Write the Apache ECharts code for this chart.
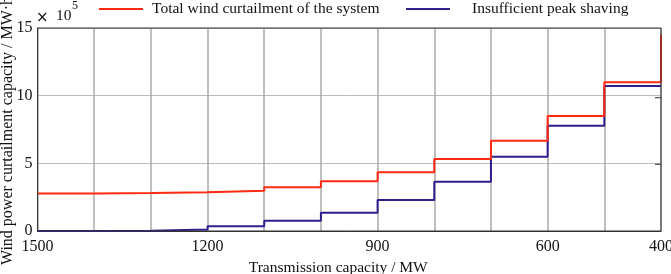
<!DOCTYPE html>
<html><head><meta charset="utf-8">
<script src="https://cdn.jsdelivr.net/npm/echarts@6/dist/echarts.min.js"></script>
<style>html,body{margin:0;padding:0;background:#fff}#c{width:671px;height:274px}</style>
</head><body><div id="c"></div>
<script>
var capacity = [1500, 1400, 1300, 1200, 1100, 1000, 900, 800, 700, 600, 500, 400];
var totalCurtail = [2.78, 2.8, 2.86, 2.98, 3.23, 3.67, 4.34, 5.32, 6.67, 8.5, 11.0, 11.0];
var totalEnd = 14.5;
var peakShaving = [0, 0.02, 0.12, 0.35, 0.76, 1.35, 2.29, 3.64, 5.49, 7.78, 10.72, 10.72];
var xLabels = [1500, 1200, 900, 600, 400];
var yTicks = [0, 5, 10, 15];
var seriesNames = ['Total wind curtailment of the system', 'Insufficient peak shaving'];
var yTitle = 'Wind power curtailment capacity / MW·h';

var redData = capacity.map(function (c, i) { return [c, totalCurtail[i]]; });
redData.push([capacity[capacity.length - 1], totalEnd]);
var blueData = capacity.map(function (c, i) { return [c, peakShaving[i]]; });

var font = 'Liberation Serif';
var chart = echarts.init(document.getElementById('c'), null, {renderer: 'canvas'});
chart.setOption({
  animation: false,
  textStyle: {fontFamily: font},
  grid: {left: 37.5, right: 10, top: 28, bottom: 43, containLabel: false, outerBoundsMode: 'none'},
  legend: [
    {top: 1, left: 99, itemWidth: 44, itemHeight: 2, icon: 'rect', padding: 0,
     textStyle: {fontFamily: font, fontSize: 15.5, color: '#111', padding: [0, 0, 0, 4]},
     data: [seriesNames[0]]},
    {top: 1, left: 406, itemWidth: 44, itemHeight: 2, icon: 'rect', padding: 0,
     textStyle: {fontFamily: font, fontSize: 15.5, color: '#111', padding: [0, 0, 0, 17]},
     data: [seriesNames[1]]}
  ],
  xAxis: {
    type: 'value', inverse: true, min: 400, max: 1500, interval: 100,
    name: 'Transmission capacity / MW', nameLocation: 'middle', nameGap: 26,
    nameTextStyle: {fontFamily: font, fontSize: 15.5, color: '#111', padding: [0, 22, 0, 0]},
    axisLine: {show: true, lineStyle: {color: '#333', width: 1}},
    axisTick: {show: false},
    axisLabel: {
      fontFamily: font, fontSize: 16, color: '#111', margin: 8, showMinLabel: true, showMaxLabel: true,
      formatter: function (v) { return xLabels.indexOf(v) >= 0 ? String(v) : ''; }
    },
    splitLine: {show: true, lineStyle: {color: '#aaa', width: 1.5}}
  },
  yAxis: {
    type: 'value', min: 0, max: 15, interval: 5,
    axisLine: {show: true, lineStyle: {color: '#333', width: 1}},
    axisTick: {show: false},
    axisLabel: {fontFamily: font, fontSize: 16, color: '#111', margin: 5,
      formatter: function (v) { return yTicks.indexOf(v) >= 0 ? String(v) : ''; }},
    splitLine: {show: true, lineStyle: {color: '#bbb', width: 1}}
  },
  graphic: [
    {type: 'rect', shape: {x: 37.5, y: 28, width: 623.5, height: 203}, style: {fill: 'none', stroke: '#333', lineWidth: 1}, silent: true, z: 100},
    {type: 'line', shape: {x1: 655, y1: 97.7, x2: 661, y2: 97.7}, style: {stroke: '#333', lineWidth: 1}, z: 100},
    {type: 'line', shape: {x1: 655, y1: 164.3, x2: 661, y2: 164.3}, style: {stroke: '#333', lineWidth: 1}, z: 100},
    {type: 'text', x: 8, y: 131, rotation: Math.PI / 2, style: {
      text: yTitle, fontFamily: font, fontSize: 16, fill: '#111', align: 'center', verticalAlign: 'middle'}},
    {type: 'text', x: 36, y: 18, style: {
      text: '×', fontFamily: 'DejaVu Sans', fontSize: 15, fill: '#111', align: 'left', verticalAlign: 'middle'}},
    {type: 'text', x: 56, y: 8, style: {
      text: '10', fontFamily: font, fontSize: 15.5, fill: '#111', align: 'left', verticalAlign: 'top'}},
    {type: 'text', x: 72, y: 0, style: {
      text: '5', fontFamily: font, fontSize: 12, fill: '#111', align: 'left', verticalAlign: 'top'}}
  ],
  series: [
    {name: seriesNames[0], type: 'line', step: 'end', data: redData,
     showSymbol: false, lineStyle: {color: '#ff2a10', width: 2}, itemStyle: {color: '#ff2a10'}, z: 3},
    {name: seriesNames[1], type: 'line', step: 'end', data: blueData,
     showSymbol: false, lineStyle: {color: '#2e1f8f', width: 2}, itemStyle: {color: '#2e1f8f'}, z: 2}
  ]
});
</script></body></html>
